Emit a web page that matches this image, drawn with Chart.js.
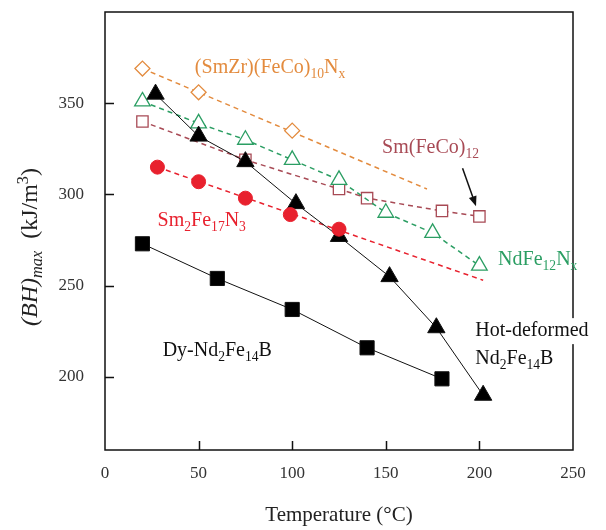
<!DOCTYPE html>
<html>
<head>
<meta charset="utf-8">
<script src="https://cdn.jsdelivr.net/npm/chart.js@4.4.0/dist/chart.umd.min.js"></script>
<style>
  html, body { margin: 0; padding: 0; background: #fff; }
  #wrap { width: 606px; height: 530px; }
</style>
</head>
<body>
<div id="wrap"><canvas id="myChart"></canvas></div>
<script>
// dados: Temperatura (°C) x (BH)max (kJ/m3)
var dyTemp = [20, 60, 100, 140, 180]
var dyBH = [273, 254, 237, 216, 199]

var hotTemp = [27, 50, 75, 102, 125, 152, 177, 202]
var hotBH = [355, 332, 318, 295, 277, 255, 227, 190]

var ndTemp = [20, 50, 75, 100, 125, 150, 175, 200]
var ndBH = [351, 339, 330, 319, 308, 290, 279, 261]

var smTemp = [20, 75, 125, 140, 180, 200]
var smBH = [340, 319, 303, 298, 291, 288]

var smzrTemp = [20, 50, 100]
var smzrBH = [369, 356, 335]
var smzrFitTemp = [20, 172]
var smzrFitBH = [369, 303]

var sm2Temp = [28, 50, 75, 99, 125]
var sm2BH = [315, 307, 298, 289, 281]
var sm2FitTemp = [28, 202]
var sm2FitBH = [315, 253]

var xTicks = [0, 50, 100, 150, 200, 250]
var yTicks = [200, 250, 300, 350]

const FONTE = "'Liberation Serif', 'Times New Roman', serif"
const LARANJA = '#E38B3E'
const MARROM = '#A84A55'
const VERDE = '#2B9E63'
const VERMELHO = '#E8212E'

function pares(xs, ys) {
    return xs.map((x, i) => ({ x: x, y: ys[i] }))
}

// rotulos: partes [texto, 0 normal / 1 subscrito / 2 sobrescrito, italico]
var rotulos = [
    { cor: LARANJA, x: 48, y: 366.4, partes: [['(SmZr)(FeCo)'], ['10', 1], ['N'], ['x', 1]] },
    { cor: MARROM, x: 148, y: 322.6, partes: [['Sm(FeCo)'], ['12', 1]] },
    { cor: VERDE, x: 210, y: 261.3, partes: [['NdFe'], ['12', 1], ['N'], ['x', 1]] },
    { cor: VERMELHO, x: 28.1, y: 282.6, partes: [['Sm'], ['2', 1], ['Fe'], ['17', 1], ['N'], ['3', 1]] },
    { cor: '#111', x: 30.8, y: 211.4, partes: [['Dy-Nd'], ['2', 1], ['Fe'], ['14', 1], ['B']] },
    { cor: '#111', x: 197.8, y: 222.4, partes: [['Hot-deformed']], fundo: true },
    { cor: '#111', x: 197.8, y: 207, partes: [['Nd'], ['2', 1], ['Fe'], ['14', 1], ['B']], fundo: true }
]

function textoRico(ctx, partes, x, y, tam, desenhar) {
    partes.forEach(p => {
        var tipo = p[1] || 0
        var f = tipo ? tam * 0.68 : tam
        ctx.font = (p[2] ? 'italic ' : '') + f + 'px ' + FONTE
        var dy = tipo == 1 ? tam * 0.22 : tipo == 2 ? -tam * 0.38 : 0
        if (desenhar) ctx.fillText(p[0], x, y + dy)
        x += ctx.measureText(p[0]).width
    })
    return x
}

const extras = {
    id: 'extras',
    beforeDatasetsDraw(chart) {
        const ctx = chart.ctx
        const a = chart.chartArea
        const sx = chart.scales.x
        const sy = chart.scales.y
        ctx.save()
        ctx.strokeStyle = '#111'
        ctx.lineWidth = 1.5
        ctx.strokeRect(a.left, a.top, a.right - a.left, a.bottom - a.top)
        ctx.beginPath()
        yTicks.forEach(v => {
            var py = Math.round(sy.getPixelForValue(v)) + 0.5
            ctx.moveTo(a.left, py)
            ctx.lineTo(a.left + 9, py)
        })
        xTicks.slice(1, -1).forEach(v => {
            var px = Math.round(sx.getPixelForValue(v)) + 0.5
            ctx.moveTo(px, a.bottom)
            ctx.lineTo(px, a.bottom - 9)
        })
        ctx.stroke()
        ctx.restore()
    },
    afterDraw(chart) {
        const ctx = chart.ctx
        const sx = chart.scales.x
        const sy = chart.scales.y
        ctx.save()
        ctx.textBaseline = 'alphabetic'
        ctx.textAlign = 'left'

        rotulos.forEach(r => {
            var px = sx.getPixelForValue(r.x)
            var py = sy.getPixelForValue(r.y)
            if (r.fundo) {
                var w = textoRico(ctx, r.partes, px, py, 20, false) - px
                ctx.fillStyle = '#fff'
                ctx.fillRect(px - 2, py - 18, w + 6, 26)
            }
            ctx.fillStyle = r.cor
            textoRico(ctx, r.partes, px, py, 20, true)
        })

        // seta do Sm(FeCo)12
        var x1 = sx.getPixelForValue(191), y1 = sy.getPixelForValue(314.4)
        var x2 = sx.getPixelForValue(198.2), y2 = sy.getPixelForValue(293.6)
        var ang = Math.atan2(y2 - y1, x2 - x1)
        ctx.strokeStyle = '#111'
        ctx.fillStyle = '#111'
        ctx.lineWidth = 1.5
        ctx.beginPath()
        ctx.moveTo(x1, y1)
        ctx.lineTo(x2 - 6 * Math.cos(ang), y2 - 6 * Math.sin(ang))
        ctx.stroke()
        ctx.beginPath()
        ctx.moveTo(x2, y2)
        ctx.lineTo(x2 - 10 * Math.cos(ang) + 4 * Math.sin(ang), y2 - 10 * Math.sin(ang) - 4 * Math.cos(ang))
        ctx.lineTo(x2 - 10 * Math.cos(ang) - 4 * Math.sin(ang), y2 - 10 * Math.sin(ang) + 4 * Math.cos(ang))
        ctx.closePath()
        ctx.fill()

        // titulo do eixo y
        var tituloY = [['(BH)', 0, true], ['max', 1, true], ['  (kJ/m'], ['3', 2], [')']]
        ctx.translate(37, 247)
        ctx.rotate(-Math.PI / 2)
        ctx.fillStyle = '#222'
        var w = textoRico(ctx, tituloY, 0, 0, 24, false)
        textoRico(ctx, tituloY, -w / 2, 0, 24, true)
        ctx.restore()
    }
}

var ctx = document.getElementById('myChart').getContext('2d')
var chart = new Chart(ctx, {
    type: 'line',
    data: {
        datasets: [
            {
                label: 'Sm2Fe17N3',
                data: pares(sm2Temp, sm2BH),
                showLine: false,
                pointStyle: 'circle',
                pointRadius: 7,
                backgroundColor: VERMELHO,
                borderColor: VERMELHO,
                order: 1
            },
            {
                label: 'Sm2Fe17N3 fit',
                data: pares(sm2FitTemp, sm2FitBH),
                borderColor: VERMELHO,
                borderWidth: 1.5,
                borderDash: [5, 4],
                pointRadius: 0,
                order: 6
            },
            {
                label: 'Hot-deformed Nd2Fe14B',
                data: pares(hotTemp, hotBH),
                borderColor: '#111',
                backgroundColor: '#000',
                borderWidth: 1,
                pointStyle: 'triangle',
                pointRadius: 10,
                pointBorderWidth: 1,
                order: 2
            },
            {
                label: 'Dy-Nd2Fe14B',
                data: pares(dyTemp, dyBH),
                borderColor: '#111',
                backgroundColor: '#000',
                borderWidth: 1,
                pointStyle: 'rect',
                pointRadius: 10,
                pointBorderWidth: 1,
                order: 2
            },
            {
                label: 'NdFe12Nx',
                data: pares(ndTemp, ndBH),
                borderColor: VERDE,
                backgroundColor: '#fff',
                borderWidth: 1.5,
                borderDash: [5, 4],
                pointStyle: 'triangle',
                pointRadius: 9,
                pointBorderWidth: 1.3,
                order: 3
            },
            {
                label: 'Sm(FeCo)12',
                data: pares(smTemp, smBH),
                borderColor: MARROM,
                backgroundColor: '#fff',
                borderWidth: 1.5,
                borderDash: [5, 4],
                pointStyle: 'rect',
                pointRadius: 8,
                pointBorderWidth: 1.3,
                order: 4
            },
            {
                label: '(SmZr)(FeCo)10Nx',
                data: pares(smzrTemp, smzrBH),
                showLine: false,
                borderColor: LARANJA,
                backgroundColor: '#fff',
                pointStyle: 'rectRot',
                pointRadius: 7.5,
                pointBorderWidth: 1.3,
                order: 4
            },
            {
                label: '(SmZr)(FeCo)10Nx fit',
                data: pares(smzrFitTemp, smzrFitBH),
                borderColor: LARANJA,
                borderWidth: 1.5,
                borderDash: [5, 4],
                pointRadius: 0,
                order: 6
            }
        ]
    },
    options: {
        responsive: true,
        maintainAspectRatio: false,
        animation: false,
        events: [],
        layout: { padding: { top: 12, right: 33, left: 0, bottom: 0 } },
        plugins: {
            legend: { display: false },
            tooltip: { enabled: false }
        },
        scales: {
            x: {
                type: 'linear',
                min: 0,
                max: 250,
                afterBuildTicks: s => { s.ticks = xTicks.map(v => ({ value: v })) },
                afterFit: s => { s.height = 80; s.paddingLeft = 0; s.paddingRight = 0 },
                grid: { display: false },
                border: { display: false },
                ticks: { color: '#333', font: { family: FONTE, size: 17 }, padding: 5, maxRotation: 0 },
                title: {
                    display: true,
                    text: 'Temperature (°C)',
                    color: '#222',
                    font: { family: FONTE, size: 21 },
                    padding: { top: 0, bottom: 2 }
                }
            },
            y: {
                min: 160,
                max: 400,
                afterBuildTicks: s => { s.ticks = yTicks.map(v => ({ value: v })) },
                afterFit: s => { s.width = 105; s.paddingTop = 0; s.paddingBottom = 0 },
                grid: { display: false },
                border: { display: false },
                ticks: { color: '#333', font: { family: FONTE, size: 17 }, padding: 13 }
            }
        }
    },
    plugins: [extras]
})
</script>
</body>
</html>
